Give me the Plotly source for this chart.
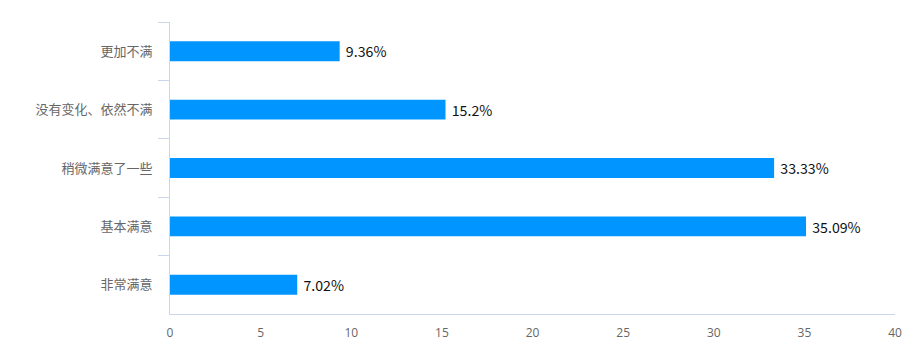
import plotly.graph_objects as go

categories = ["更加不满", "没有变化、依然不满", "稍微满意了一些", "基本满意", "非常满意"]
values = [9.36, 15.2, 33.33, 35.09, 7.02]
labels = ["9.36%", "15.2%", "33.33%", "35.09%", "7.02%"]
x_ticks = [0, 5, 10, 15, 20, 25, 30, 35, 40]

fig = go.Figure(
    go.Bar(
        x=values,
        y=categories,
        orientation="h",
        marker=dict(color="#0095ff", line=dict(width=0)),
        text=labels,
        texttemplate=" %{text}",
        textposition="outside",
        textfont=dict(size=15, color="#111111", family="Noto Sans CJK SC"),
        cliponaxis=False,
        width=0.34,
    )
)

fig.update_layout(
    width=906,
    height=351,
    margin=dict(l=162, r=17, t=14, b=45),
    plot_bgcolor="white",
    paper_bgcolor="white",
    showlegend=False,
    font=dict(family="Noto Sans CJK SC", size=13, color="#666666"),
    xaxis=dict(
        range=[0, 40],
        tickvals=x_ticks,
        showgrid=False,
        zeroline=False,
        showline=True,
        linecolor="#ccd6eb",
        linewidth=1,
        ticks="",
        ticklabelstandoff=8,
        tickfont=dict(family="Open Sans", size=12, color="#666666"),
    ),
    yaxis=dict(
        categoryorder="array",
        categoryarray=categories,
        autorange="reversed",
        showgrid=False,
        zeroline=False,
        showline=True,
        linecolor="#ccd6eb",
        linewidth=1,
        ticks="outside",
        tickson="boundaries",
        ticklen=11,
        tickcolor="#ccd6eb",
        ticklabelstandoff=14,
        tickfont=dict(family="Noto Sans CJK SC", size=13, color="#666666"),
    ),
)

fig.write_html("out.html")
